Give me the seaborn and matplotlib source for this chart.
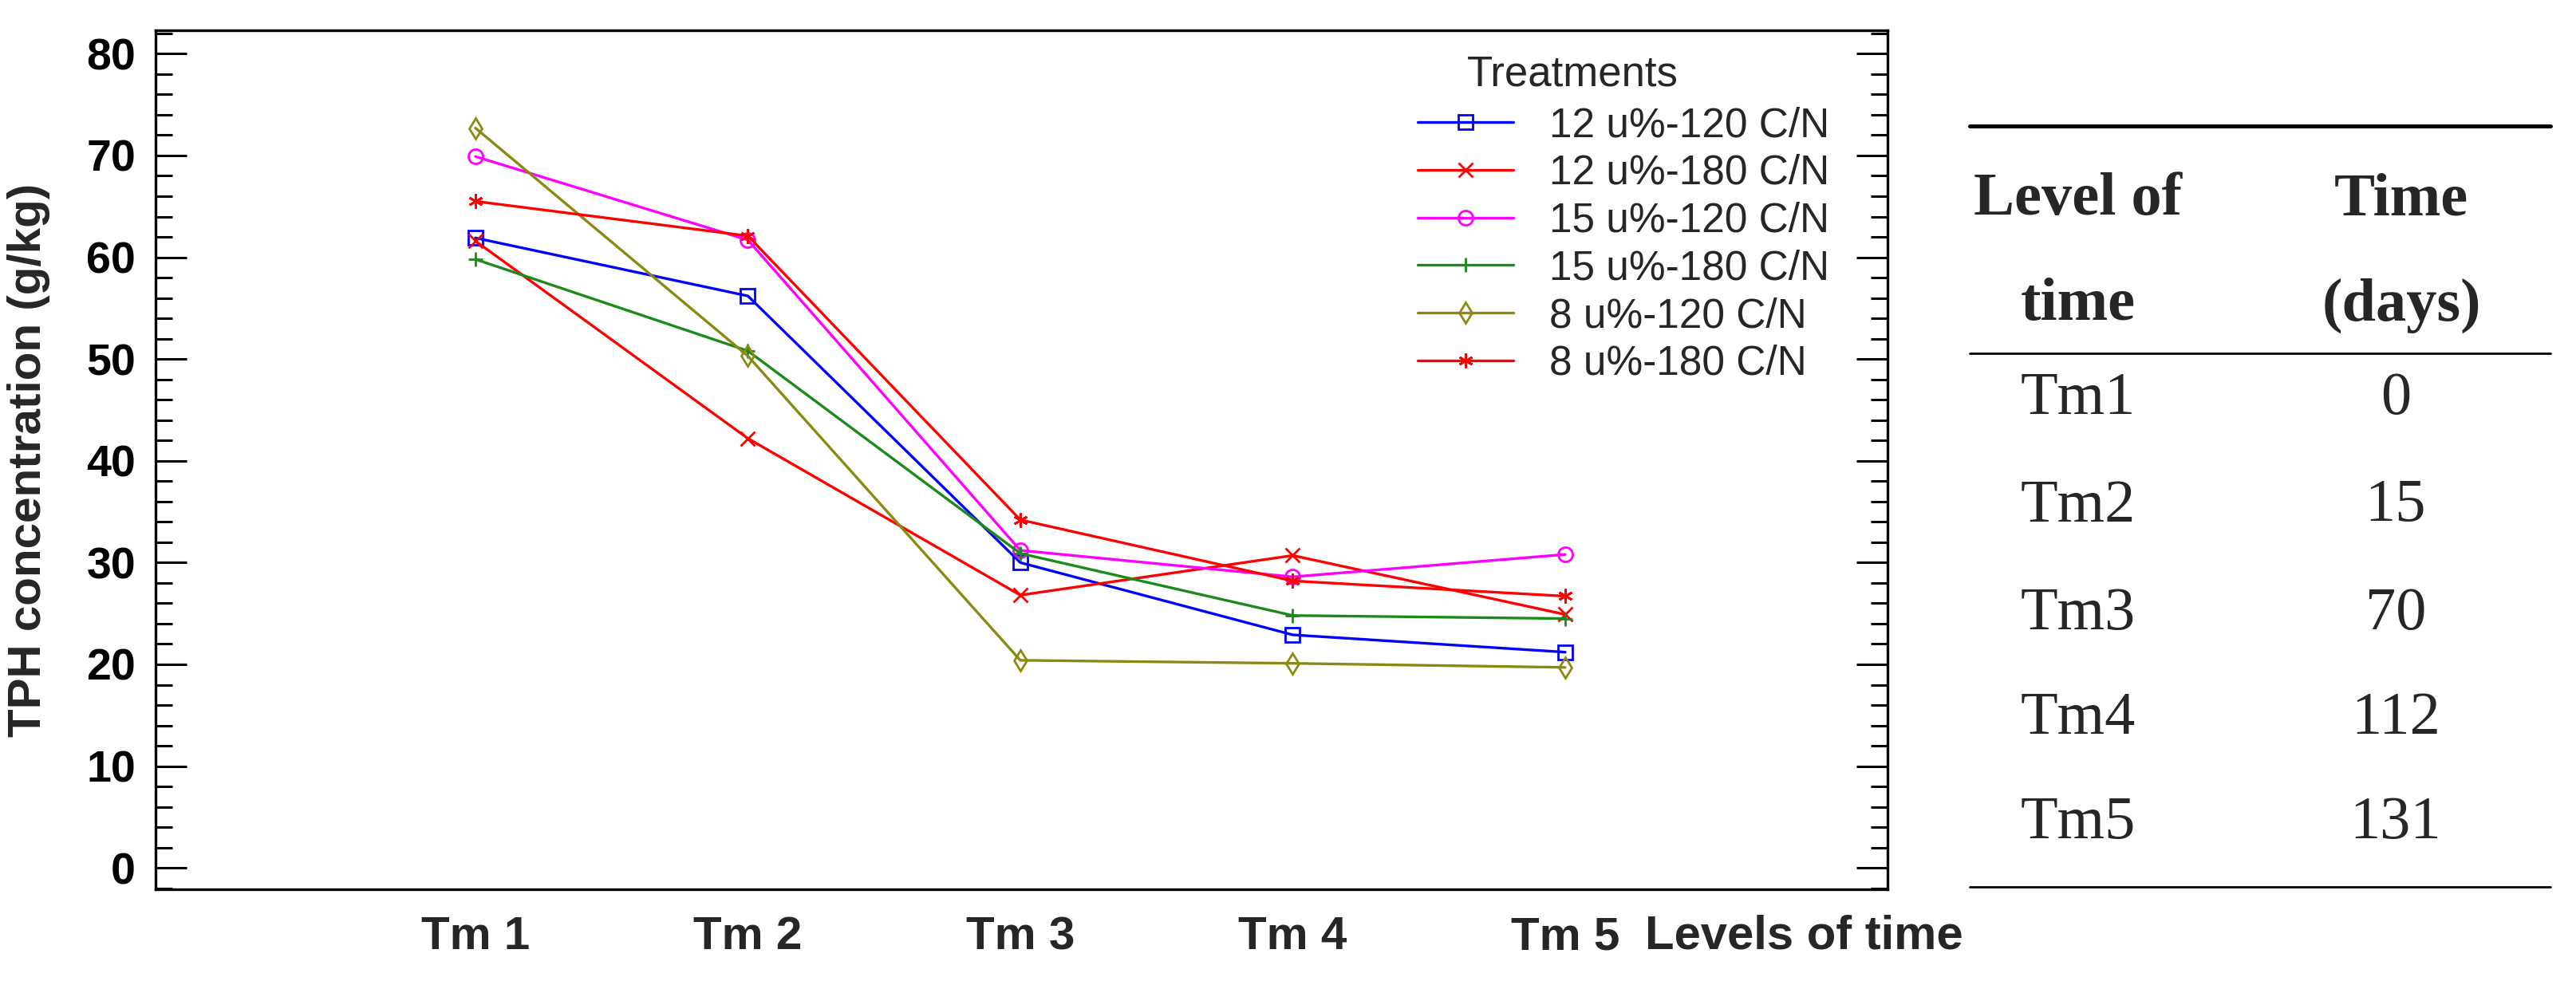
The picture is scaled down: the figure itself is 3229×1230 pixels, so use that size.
import pandas as pd
import matplotlib
matplotlib.use("Agg")
import matplotlib.pyplot as plt
import seaborn as sns
from matplotlib import font_manager
from matplotlib.ticker import MultipleLocator
from matplotlib.lines import Line2D

# Data
levels = ["Tm 1", "Tm 2", "Tm 3", "Tm 4", "Tm 5"]
treatments = ["12 u%-120 C/N", "12 u%-180 C/N", "15 u%-120 C/N",
              "15 u%-180 C/N", "8 u%-120 C/N", "8 u%-180 C/N"]
t12_120 = [61.9, 56.2, 30.0, 22.9, 21.2]
t12_180 = [61.6, 42.2, 26.8, 30.7, 24.9]
t15_120 = [69.9, 61.7, 31.2, 28.6, 30.8]
t15_180 = [59.8, 50.8, 30.9, 24.8, 24.5]
t8_120 = [72.7, 50.3, 20.4, 20.1, 19.7]
t8_180 = [65.5, 62.1, 34.2, 28.2, 26.7]

# side table
table_levels = ["Tm1", "Tm2", "Tm3", "Tm4", "Tm5"]
table_days = [0, 15, 70, 112, 131]

colors = ["#0000FF", "#FF0000", "#FF00FF", "#1A8A1A", "#8A8A10", "#FF0000"]
marker_list = ["s", "x", "o", "+", "d", (6, 2, 0)]

series = [t12_120, t12_180, t15_120, t15_180, t8_120, t8_180]
rows = []
for name, vals in zip(treatments, series):
    for lv, v in zip(levels, vals):
        rows.append({"level": lv, "tph": v, "treatment": name})
df = pd.DataFrame(rows)

sns.set_style("white")
names = {f.name for f in font_manager.fontManager.ttflist}
narrow = "Liberation Sans Narrow" if "Liberation Sans Narrow" in names else "Liberation Sans"
plt.rcParams["font.family"] = ["Liberation Sans", "DejaVu Sans"]

W, H = 3230, 1230
fig = plt.figure(figsize=(W / 200, H / 200), dpi=200)
ax = fig.add_axes([195 / W, 1 - 1115 / H, (2366 - 195) / W, (1115 - 38) / H])

# one call per treatment (seaborn will not mix filled and line-art markers)
for name, c, m in zip(treatments, colors, marker_list):
    sub = df[df["treatment"] == name]
    sns.lineplot(data=sub, x="level", y="tph", color=c, marker=m,
                 linewidth=1.2, markersize=6.5, markerfacecolor="none",
                 markeredgecolor=c, markeredgewidth=1.0, ax=ax, label=name,
                 legend=False)

ax.set_xlim(-1.174, 5.183)
ax.set_ylim(-2.1, 82.3)
ax.yaxis.set_major_locator(MultipleLocator(10))
ax.yaxis.set_minor_locator(MultipleLocator(2))
for s in ax.spines.values():
    s.set_color("black")
    s.set_linewidth(1.2)
ax.tick_params(axis="y", which="both", direction="in", left=True, right=True,
               width=1.1, colors="black")
ax.tick_params(axis="y", which="major", length=14, pad=9, labelsize=20)
ax.tick_params(axis="y", which="minor", length=7.5)
ax.tick_params(axis="x", length=0, pad=12)
for lab in ax.get_yticklabels():
    lab.set_fontweight("bold")
for lab in ax.get_xticklabels():
    lab.set_fontweight("bold")
    lab.set_fontsize(21)
    lab.set_family(narrow)

ax.set_xlabel("")
ax.set_ylabel("TPH concentration (g/kg)", fontsize=21, fontweight="bold")
ax.yaxis.set_label_coords(-0.061, 0.4995)

fig.text(2062 / W, 1 - 1174 / H, "Levels of time", fontsize=21.5, fontweight="bold",
         family=narrow, ha="left", va="center")

# legend
handles = [Line2D([0], [0], color=c, marker=m, markerfacecolor="none",
                  markeredgecolor=c, markersize=6.5, linewidth=1.2)
           for c, m in zip(colors, marker_list)]
fig.legend(handles, treatments, loc="upper left",
           bbox_to_anchor=(1777 / W, 1 - 133 / H), frameon=False,
           fontsize=18.5, handlelength=2.33, handletextpad=0.88,
           labelspacing=0.21, borderpad=0, borderaxespad=0)
fig.text(1839 / W, 1 - 94 / H, "Treatments", fontsize=19, ha="left", va="center")

# table on the right
serif = ["Liberation Serif", "DejaVu Serif"]
x0, x1 = 2469 / W, 3197 / W
fig.add_artist(Line2D([x0, x1], [1 - 158 / H] * 2, color="black", lw=1.8))
fig.add_artist(Line2D([x0, x1], [1 - 443 / H] * 2, color="black", lw=1.0))
fig.add_artist(Line2D([x0, x1], [1 - 1112 / H] * 2, color="black", lw=1.0))
c1, c2 = 2605 / W, 3010 / W
fig.text(c1, 1 - 251 / H, "Level of", family=serif, fontsize=27.5, fontweight="bold",
         ha="center", va="center")
fig.text(c1, 1 - 383 / H, "time", family=serif, fontsize=27.5, fontweight="bold",
         ha="center", va="center")
fig.text(c2, 1 - 251 / H, "Time", family=serif, fontsize=27.5, fontweight="bold",
         ha="center", va="center")
fig.text(c2, 1 - 383 / H, "(days)", family=serif, fontsize=27.5, fontweight="bold",
         ha="center", va="center")
row_y = [501, 635, 770, 902, 1033]
for lv, d, yy in zip(table_levels, table_days, row_y):
    fig.text(c1, 1 - yy / H, lv, family=serif, fontsize=27.5, ha="center", va="center")
    fig.text(c2 - 7 / W, 1 - yy / H, str(d), family=serif, fontsize=27.5,
             ha="center", va="center")

fig.savefig("out.png", dpi=200, facecolor="white")
